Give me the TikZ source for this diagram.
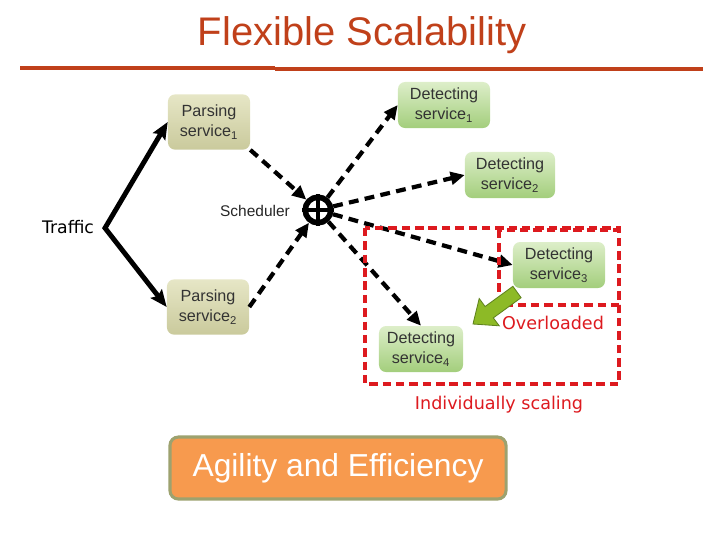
\documentclass[tikz,border=0pt]{standalone}
\usepackage{fontspec}
\setmainfont{Liberation Sans}
\newfontfamily\verd{DejaVu Sans}
\usepackage{tikz}
\usetikzlibrary{arrows.meta}

\definecolor{titlered}{HTML}{C0401A}
\definecolor{boxred}{HTML}{DD1A1F}
\definecolor{pstop}{HTML}{E6E6C6}
\definecolor{psbot}{HTML}{CACA9C}
\definecolor{dstop}{HTML}{DDEEC9}
\definecolor{dsbot}{HTML}{A3CE7C}
\definecolor{agfill}{HTML}{F79A4E}
\definecolor{agline}{HTML}{9DA26F}
\definecolor{growfill}{HTML}{8DBA26}
\definecolor{growline}{HTML}{5F821E}

\tikzset{
  psbox/.style={rounded corners=5pt, top color=pstop, bottom color=psbot, text=black!80,
    align=center, inner sep=0pt, minimum width=2.05cm, minimum height=1.38cm,
    font=\fontsize{11.5}{14.2}\selectfont},
  dsbox/.style={psbox, top color=dstop, bottom color=dsbot, minimum width=2.3cm, minimum height=1.15cm},
  dashlink/.style={line width=3pt, dash pattern=on 7pt off 4.5pt, -{Triangle[length=10pt,width=9pt]}},
  redbox/.style={draw=boxred, line width=2.2pt, dash pattern=on 6pt off 3.5pt},
  redtext/.style={text=boxred, font=\verd\fontsize{12.5}{15}\selectfont}
}

\begin{document}
\begin{tikzpicture}[x=0.025cm, y=-0.025cm]
\useasboundingbox (0,0) rectangle (720,540);

\node [text=titlered, font=\fontsize{28.4}{32}\selectfont] (title) at (362,35) {Flexible Scalability};
\draw [titlered, line width=2.8pt] (20,68) -- (275,68);
\draw [titlered, line width=2.8pt] (275,69) -- (703,69);

\node [psbox] (ps1) at (209,122) {Parsing\\service\textsubscript{1}};
\node [psbox] (ps2) at (208,307) {Parsing\\service\textsubscript{2}};
\node [dsbox] (ds1) at (444,105) {Detecting\\service\textsubscript{1}};
\node [dsbox, minimum width=2.25cm] (ds2) at (510,175) {Detecting\\service\textsubscript{2}};
\node [dsbox, minimum width=2.3cm] (ds3) at (559,265) {Detecting\\service\textsubscript{3}};
\node [dsbox, minimum width=2.1cm] (ds4) at (421,349) {Detecting\\service\textsubscript{4}};

% traffic
\coordinate (tv) at (105,228);
\node [font=\verd\fontsize{12.3}{15}\selectfont] (traffic) at (68,227) {Traffic};
\draw [line width=3.5pt, line join=miter, {Stealth[length=12pt,width=10pt,inset=2pt]}-{Stealth[length=12pt,width=10pt,inset=2pt]}]
  (ps1.west) -- (tv) -- (ps2.west);

% scheduler
\node [circle, draw, line width=4pt, minimum size=0.64cm, inner sep=0pt] (sched) at (318,210) {};
\draw [line width=3.5pt] (sched.north) -- (sched.south) (sched.west) -- (sched.east);
\node [font=\fontsize{11}{13}\selectfont, text=black!85] (schedlbl) at (255,211) {Scheduler};

\draw [dashlink] (ps1.south east) -- (sched);
\draw [dashlink] (ps2.east) -- (sched);
\draw [dashlink] (sched) -- (ds1.west);
\draw [dashlink] (sched) -- (ds2.west);
\draw [dashlink] (sched) -- (ds3.west);
\draw [dashlink] (sched) -- (ds4.north);

% scaling boxes
\draw [redbox] (365,228) rectangle (619,384);
\draw [redbox] (499,230) rectangle (619,305);
\fill [growfill, draw=growline, line width=0.6pt]
  (512.9,286.3) -- (485.1,306.5) -- (479.2,298.5) -- (473,324) -- (499.2,325.8)
  -- (493.3,317.9) -- (521.1,297.7) -- cycle;
\node [redtext] (ovl) at (553,323) {Overloaded};
\node [redtext] (indiv) at (499,405) {Individually scaling};

\node [rounded corners=6pt, fill=agfill, draw=agline, line width=2.2pt, minimum width=8.4cm, minimum height=1.55cm,
  text=white, font=\fontsize{22.6}{26}\selectfont] (agility) at (338,468) {Agility and Efficiency};
\end{tikzpicture}
\end{document}
